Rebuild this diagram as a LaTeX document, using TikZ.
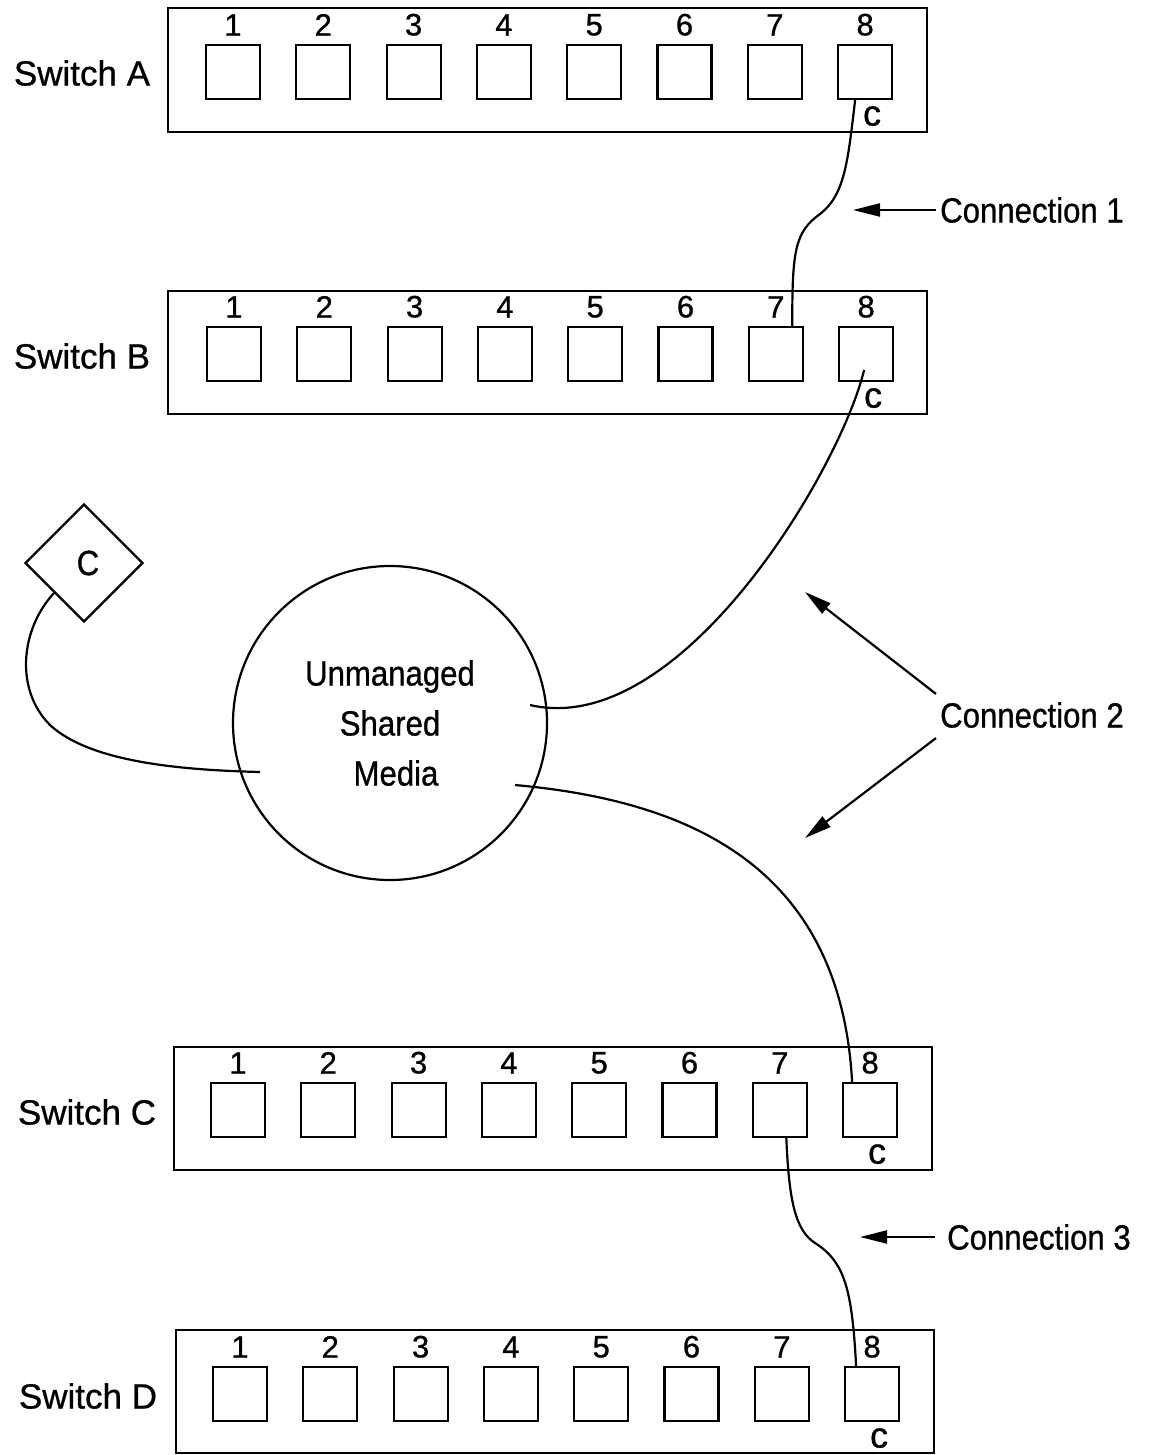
\documentclass[tikz,border=0pt]{standalone}
\usepackage{fontspec}
\setmainfont{Liberation Sans}[FakeBold=0.8]
\newfontfamily\cond[FakeStretch=0.89,FakeBold=0.8]{Liberation Sans}
\usetikzlibrary{shapes.geometric,arrows.meta}
\tikzset{
  swbox/.style={draw, line width=2.2pt, rectangle, inner sep=0pt},
  port/.style={draw, line width=2.2pt, rectangle, inner sep=0pt, minimum width=54pt, minimum height=54pt},
  digit/.style={inner sep=0pt, font=\fontsize{31}{31}\selectfont},
  cmark/.style={inner sep=0pt, font=\fontsize{36}{36}\selectfont},
  swlabel/.style={inner sep=0pt, font=\fontsize{35}{40}\selectfont},
  conlabel/.style={inner sep=4pt, anchor=west, font=\fontsize{35}{40}\cond},
  wire/.style={line width=2.2pt},
  arr/.style={line width=2.2pt, -{Triangle[length=27pt,width=13pt]}},
}
\begin{document}
\begin{tikzpicture}[x=1pt,y=-1pt]
\useasboundingbox (0,0) rectangle (1148,1455);
% switches
\foreach \s/\bx/\by/\bX/\bY/\pl/\pc/\lx/\ly in {
  A/168/8/927/132/206/72/82/73,
  B/168/291/927/414/207/354/82/356,
  C/174/1047/932/1170/211/1110/87/1112,
  D/176/1330/934/1453/213/1394/88/1396}{
  \node[swbox, minimum width={\bX-\bx}, minimum height={\bY-\by}] (sw\s) at ({(\bx+\bX)/2},{(\by+\bY)/2}) {};
  \node[swlabel] (lab\s) at (\lx,\ly) {Switch \s};
  \foreach \i in {1,...,8}{
    \node[port] (\s\i) at ({\pl+27+(\i-1)*90.3},\pc) {};
    \node[digit, anchor=south] (n\s\i) at ([yshift=8pt]\s\i.north) {\i};
  }
  \node[cmark] (c\s) at ([xshift=7pt,yshift=-16pt]\s8.south) {c};
}
% shared media
\node[draw, circle, line width=2.2pt, minimum size=314pt, inner sep=0pt, align=center,
      font=\fontsize{35}{50}\cond] (usm) at (390,723) {Unmanaged\\Shared\\\hspace*{12pt}Media};
\node[draw, diamond, line width=2.2pt, minimum width=118pt, minimum height=118pt, inner sep=0pt,
      font=\fontsize{35}{40}\cond] (dia) at (84,563) {\hspace*{8pt}C};
\coordinate (m1) at ([shift={(140,-18)}]usm.center);
\coordinate (m2) at ([shift={(125,62)}]usm.center);
\coordinate (m3) at ([shift={(-130,49)}]usm.center);
% connections
\draw[wire] ([xshift=-10pt]A8.south) .. controls (848,160) and (845,195) .. (820,214)
            .. controls (795,232) and (792,250) .. ([xshift=16.5pt]B7.north);
\draw[wire] ([shift={(-2,16)}]B8.center) .. controls (840,470) and (680,740) .. (m1);
\draw[wire] (m2) .. controls (680,800) and (840,860) .. ([xshift=-18pt]C8.north);
\draw[wire] ([xshift=6.5pt]C7.south) .. controls (789,1200) and (795,1230) .. (815,1243)
            .. controls (845,1262) and (852,1290) .. ([xshift=-16pt]D8.north);
\draw[wire] (dia.south west) .. controls (20,630) and (15,690) .. (50,725)
            .. controls (90,762) and (180,770) .. (m3);
% labels and arrows
\node[conlabel] (con1) at (936,210) {Connection 1};
\coordinate (t1) at (853,210);
\draw[arr] (con1.west) -- (t1);
\node[conlabel] (con2) at (936,715) {Connection 2};
\coordinate (t2a) at (805,592);
\coordinate (t2b) at (805,838);
\draw[arr] ([yshift=4pt]con2.north west) -- (t2a);
\draw[arr] ([yshift=-6pt]con2.south west) -- (t2b);
\node[conlabel] (con3) at (943,1237) {Connection 3};
\coordinate (t3) at (860,1237);
\draw[arr] ([xshift=-8pt]con3.west) -- (t3);
\end{tikzpicture}
\end{document}
